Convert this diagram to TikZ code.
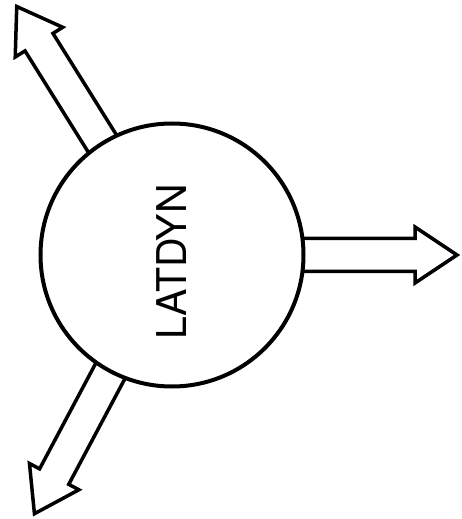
\documentclass[tikz,border=0pt]{standalone}
\usepackage{fontspec}
\setsansfont{TeX Gyre Heros}
\usetikzlibrary{calc,backgrounds}

\begin{document}
\begin{tikzpicture}[
  x=1pt,y=1pt,
  hub/.style={draw=black,fill=white,circle,line width=4pt,minimum size=263pt,inner sep=0pt},
  blk/.style={draw=black,fill=white,line width=3.5pt,line join=miter},
  lbl/.style={font=\sffamily\fontsize{41}{41}\selectfont,rotate=90},
]
\useasboundingbox (-172,-264) rectangle (290,255);

%------------------------------------------------------------- hub ---
\node[hub] (core) at (0,0) {};
\node[lbl] (title) at ($(core.center)+(0,-7)$) {LATDYN};

%---------------------------------------------------------- outputs ---
\begin{scope}[on background layer]
\foreach \nm/\ang/\dd in {east/0/285, up/122/293, down/242/293}{
  \coordinate (tip-\nm) at (\ang:\dd);
  \draw[blk]
    ($(core.center)!120pt!(tip-\nm)!16.5pt!90:(tip-\nm)$) --
    ($(core.center)!\dd pt-42pt!(tip-\nm)!16.5pt!90:(tip-\nm)$) --
    ($(core.center)!\dd pt-42pt!(tip-\nm)!28pt!90:(tip-\nm)$) --
    (tip-\nm) --
    ($(core.center)!\dd pt-42pt!(tip-\nm)!28pt!-90:(tip-\nm)$) --
    ($(core.center)!\dd pt-42pt!(tip-\nm)!16.5pt!-90:(tip-\nm)$) --
    ($(core.center)!120pt!(tip-\nm)!16.5pt!-90:(tip-\nm)$);
}
\end{scope}

\end{tikzpicture}
\end{document}
